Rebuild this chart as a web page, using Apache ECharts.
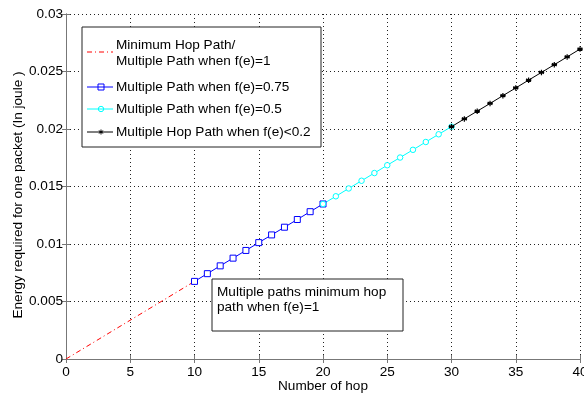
<!DOCTYPE html>
<html>
<head>
<meta charset="utf-8">
<script src="https://cdn.jsdelivr.net/npm/echarts@6/dist/echarts.min.js"></script>
<style>html,body{margin:0;padding:0;background:#fff}#c{width:584px;height:394px}</style>
</head>
<body>
<div id="c"></div>
<script>
// ---- data ----
const minHopX = [0, 10];
const minHopY = [0, 0.00675];
const mp075X = [10, 11, 12, 13, 14, 15, 16, 17, 18, 19, 20];
const mp075Y = [0.00675, 0.00742, 0.00810, 0.00877, 0.00944, 0.01012, 0.01079, 0.01146, 0.01213, 0.01281, 0.01348];
const mp05X = [20, 21, 22, 23, 24, 25, 26, 27, 28, 29, 30];
const mp05Y = [0.01348, 0.01415, 0.01483, 0.01550, 0.01617, 0.01685, 0.01752, 0.01819, 0.01887, 0.01954, 0.02020];
const mhX = [30, 31, 32, 33, 34, 35, 36, 37, 38, 39, 40];
const mhY = [0.02020, 0.02088, 0.02155, 0.02222, 0.02290, 0.02357, 0.02425, 0.02492, 0.02559, 0.02627, 0.02695];
const xTicks = [0, 5, 10, 15, 20, 25, 30, 35, 40];
const yTicks = [0, 0.005, 0.01, 0.015, 0.02, 0.025, 0.03];
const legendNames = ['Minimum Hop Path/\nMultiple Path when f(e)=1', 'Multiple Path when f(e)=0.75', 'Multiple Path when f(e)=0.5', 'Multiple Hop Path when f(e)<0.2'];
const noteText = 'Multiple paths minimum hop\npath when f(e)=1';
const xName = 'Number of hop';
const yName = 'Energy required for one packet (In joule )';

const pairs = (xs, ys) => xs.map((x, i) => [x, ys[i]]);
const FONT = 'Liberation Sans, Arial, sans-serif';
const FS = 13.6;
const ASTER = 'path://M0,-10L0,10M-8.66,-5L8.66,5M-8.66,5L8.66,-5M-10,0L10,0';

const chart = echarts.init(document.getElementById('c'), null, {renderer: 'canvas'});
const gridLine = {show: true, lineStyle: {color: '#222', type: [1, 3], width: 1}};
const axisLine = {show: true, lineStyle: {color: '#777', width: 1}};
const tick = {show: true, inside: true, length: 4, lineStyle: {color: '#777'}};

const items = [];
const LX = 82, LY = 27, LW = 239, LH = 120;
items.push({type: 'rect', shape: {x: LX, y: LY, width: LW, height: LH}, style: {fill: '#fff', stroke: '#222', lineWidth: 1}, z: 100});
const rowsY = [52, 87, 109, 132];
const colors = ['#ff0000', '#0000ff', '#00ffff', '#000000'];
rowsY.forEach((y, i) => {
  items.push({type: 'line', shape: {x1: 87, y1: y, x2: 113, y2: y}, style: {stroke: colors[i], lineWidth: 1, lineDash: i === 0 ? [5, 3, 1, 3] : null}, z: 101});
  if (i === 1) items.push({type: 'rect', shape: {x: 98, y: y - 3, width: 6, height: 6}, style: {fill: 'none', stroke: colors[i], lineWidth: 1}, z: 102});
  if (i === 2) items.push({type: 'circle', shape: {cx: 101, cy: y, r: 2.7}, style: {fill: 'none', stroke: colors[i], lineWidth: 1}, z: 102});
  if (i === 3) {
    [[0, -2.5, 0, 2.5], [-2.2, -1.3, 2.2, 1.3], [-2.2, 1.3, 2.2, -1.3]].forEach(s => items.push({type: 'line', shape: {x1: 101 + s[0], y1: y + s[1], x2: 101 + s[2], y2: y + s[3]}, style: {stroke: '#000', lineWidth: 1}, z: 102}));
  }
  items.push({type: 'text', x: 116, y: i === 0 ? y + 1 : y, style: {text: legendNames[i], font: FS + 'px ' + FONT, fill: '#000', verticalAlign: 'middle', lineHeight: 16}, z: 103});
});
items.push({type: 'rect', shape: {x: 212, y: 279, width: 191, height: 52}, style: {fill: '#fff', stroke: '#222', lineWidth: 1}, z: 100});
items.push({type: 'text', x: 217, y: 284, style: {text: noteText, font: FS + 'px ' + FONT, fill: '#000', lineHeight: 15.5}, z: 103});
items.push({type: 'text', x: 18, y: 195, rotation: Math.PI / 2, style: {text: yName, font: FS + 'px ' + FONT, fill: '#000', align: 'center', verticalAlign: 'middle'}, z: 103});

chart.setOption({
  animation: false,
  backgroundColor: '#fff',
  textStyle: {fontFamily: FONT},
  grid: {left: 66, right: 4, top: 14, bottom: 35, containLabel: false, outerBoundsMode: 'none'},
  xAxis: [
    {type: 'value', min: xTicks[0], max: xTicks[xTicks.length - 1], interval: 5, position: 'bottom',
     name: xName, nameLocation: 'middle', nameGap: 20, nameMoveOverlap: false, nameTextStyle: {fontSize: FS, color: '#000', fontFamily: FONT},
     axisLine, axisTick: tick, splitLine: gridLine,
     axisLabel: {color: '#000', fontSize: FS, margin: 6, fontFamily: FONT, showMaxLabel: true}},
    {type: 'value', min: 0, max: 40, interval: 5, position: 'top', axisLine, axisTick: tick, splitLine: {show: false}, axisLabel: {show: false}}
  ],
  yAxis: [
    {type: 'value', min: yTicks[0], max: yTicks[yTicks.length - 1], interval: 0.005, position: 'left',
     axisLine, axisTick: tick, splitLine: gridLine,
     axisLabel: {color: '#000', fontSize: FS, margin: 3, fontFamily: FONT}},
    {type: 'value', min: 0, max: 0.03, interval: 0.005, position: 'right', axisLine, axisTick: tick, splitLine: {show: false}, axisLabel: {show: false}}
  ],
  series: [
    {type: 'line', data: pairs(minHopX, minHopY), symbol: 'none', lineStyle: {color: '#ff0000', width: 1, type: [5, 3, 1, 3]}, z: 5},
    {type: 'line', data: pairs(mp075X, mp075Y), symbol: 'rect', symbolSize: 6, itemStyle: {color: '#fff', borderColor: '#0000ff', borderWidth: 1}, lineStyle: {color: '#0000ff', width: 1}, z: 5},
    {type: 'line', data: pairs(mp05X, mp05Y), symbol: 'circle', symbolSize: 5.5, itemStyle: {color: '#fff', borderColor: '#00ffff', borderWidth: 1}, lineStyle: {color: '#00ffff', width: 1}, z: 5},
    {type: 'line', data: pairs(mhX, mhY), symbol: ASTER, symbolSize: 5.5, itemStyle: {color: '#000', borderColor: '#000', borderWidth: 1.2}, lineStyle: {color: '#000', width: 1}, z: 6}
  ],
  graphic: items
});
</script>
</body>
</html>
